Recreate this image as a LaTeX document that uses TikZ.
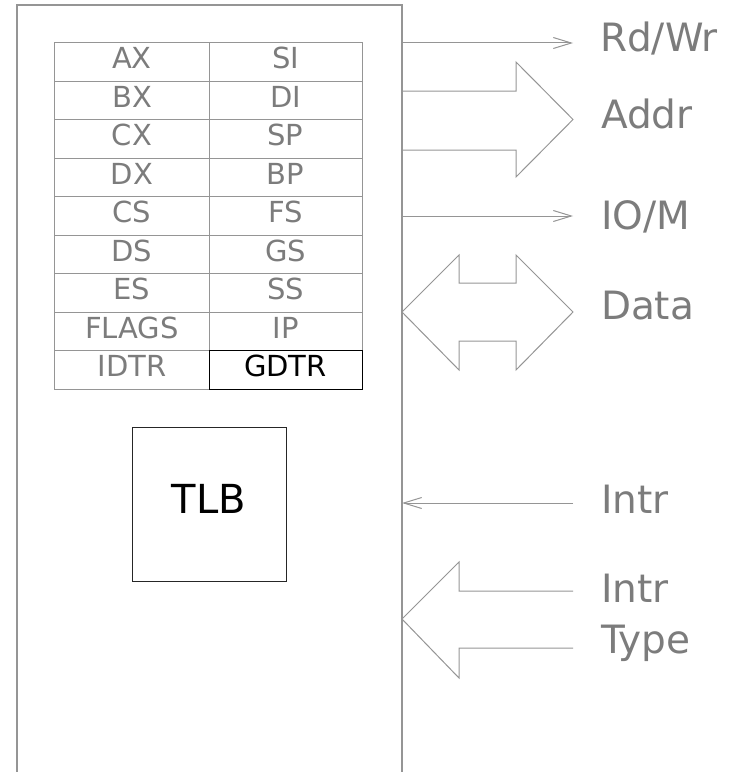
\documentclass[tikz,border=0pt]{standalone}
\usepackage{fontspec}
\setmainfont{DejaVu Sans}
\usetikzlibrary{arrows.meta}
\definecolor{wire}{HTML}{959595}
\definecolor{ink}{HTML}{7C7C7C}

\begin{document}
\begin{tikzpicture}[x=1bp, y=-1bp, line width=1bp,
          every node/.style={inner sep=0pt, outer sep=0pt},
          chip/.style={draw=wire, line width=1.5bp},
          reg/.style={draw=wire, text=ink, minimum width=154bp, minimum height=38.45bp,
            text height=26bp, text depth=12.45bp, font=\fontsize{29bp}{34bp}\selectfont},
          sig/.style={draw=wire, -{Straight Barb[length=18bp, width=11bp]}},
          bus/.style={draw=wire, line join=miter},
          lab/.style={anchor=base west, text=ink, font=\fontsize{39bp}{46bp}\selectfont},
        ]
          \useasboundingbox (0,0) rectangle (739,772);
          % processor outline, open at the bottom
          \coordinate (cpuBL) at ( 17, 772);
          \coordinate (cpuTL) at ( 17,   5);
          \coordinate (cpuTR) at (402,   5);
          \coordinate (cpuBR) at (402, 772);
          \draw[chip] (cpuBL) -- (cpuTL) -- (cpuTR) -- (cpuBR);

          % register file
          \foreach \lt/\rt [count=\i from 0] in {AX/SI, BX/DI, CX/SP, DX/BP,
                CS/FS, DS/GS, ES/SS, FLAGS/IP} {
            \node[reg] (regL\i) at (132,   62.2+38.45*\i) {\lt};
            \node[reg, minimum width=153bp] (regR\i) at (285.5, 62.2+38.45*\i) {\rt};
          }
          \node[reg] (idtr) at (132, 369.8) {IDTR};
          \node[reg, draw=black, text=black, minimum width=153bp] (gdtr) at (285.5, 369.8) {GDTR};

          \node[draw=black!85, minimum size=154bp, text height=28bp, text depth=10bp,
            font=\fontsize{40bp}{46bp}\selectfont] (tlb) at (209, 504) {TLB};

          % control lines
          \coordinate (rwA) at (402,  43);
          \coordinate (rwB) at (573,  43);
          \coordinate (ioA) at (402, 216);
          \coordinate (ioB) at (573, 216);
          \coordinate (inA) at (573, 503);
          \coordinate (inB) at (402, 503);
          \draw[sig] (rwA) -- (rwB);
          \draw[sig] (ioA) -- (ioB);
          \draw[sig] (inA) -- (inB);

          % address bus
          \draw[bus] (402, 91) -- (516, 91) -- (516, 62) -- (573, 119.5)
                     -- (516, 177) -- (516, 150) -- (402, 150);
          % data bus
          \draw[bus] (402, 312) -- (459, 255) -- (459, 283) -- (516, 283) -- (516, 255)
                     -- (573, 312) -- (516, 370) -- (516, 341) -- (459, 341)
                     -- (459, 370) -- cycle;
          % interrupt type bus
          \draw[bus] (573, 591) -- (459, 591) -- (459, 562) -- (402, 619)
                     -- (459, 678) -- (459, 648) -- (573, 648);

          \node[lab] (rwLab)   at (600,  52) {Rd/Wr};
          \node[lab] (addrLab) at (601, 128) {Addr};
          \node[lab] (ioLab)   at (601, 229) {IO/M};
          \node[lab] (dataLab) at (601, 319) {Data};
          \node[lab] (intrLab) at (601, 513) {Intr};
          \node[lab] (itLab)   at (601, 602) {Intr};
          \node[lab] (typeLab) at (601, 653) {Type};
        \end{tikzpicture}
\end{document}
